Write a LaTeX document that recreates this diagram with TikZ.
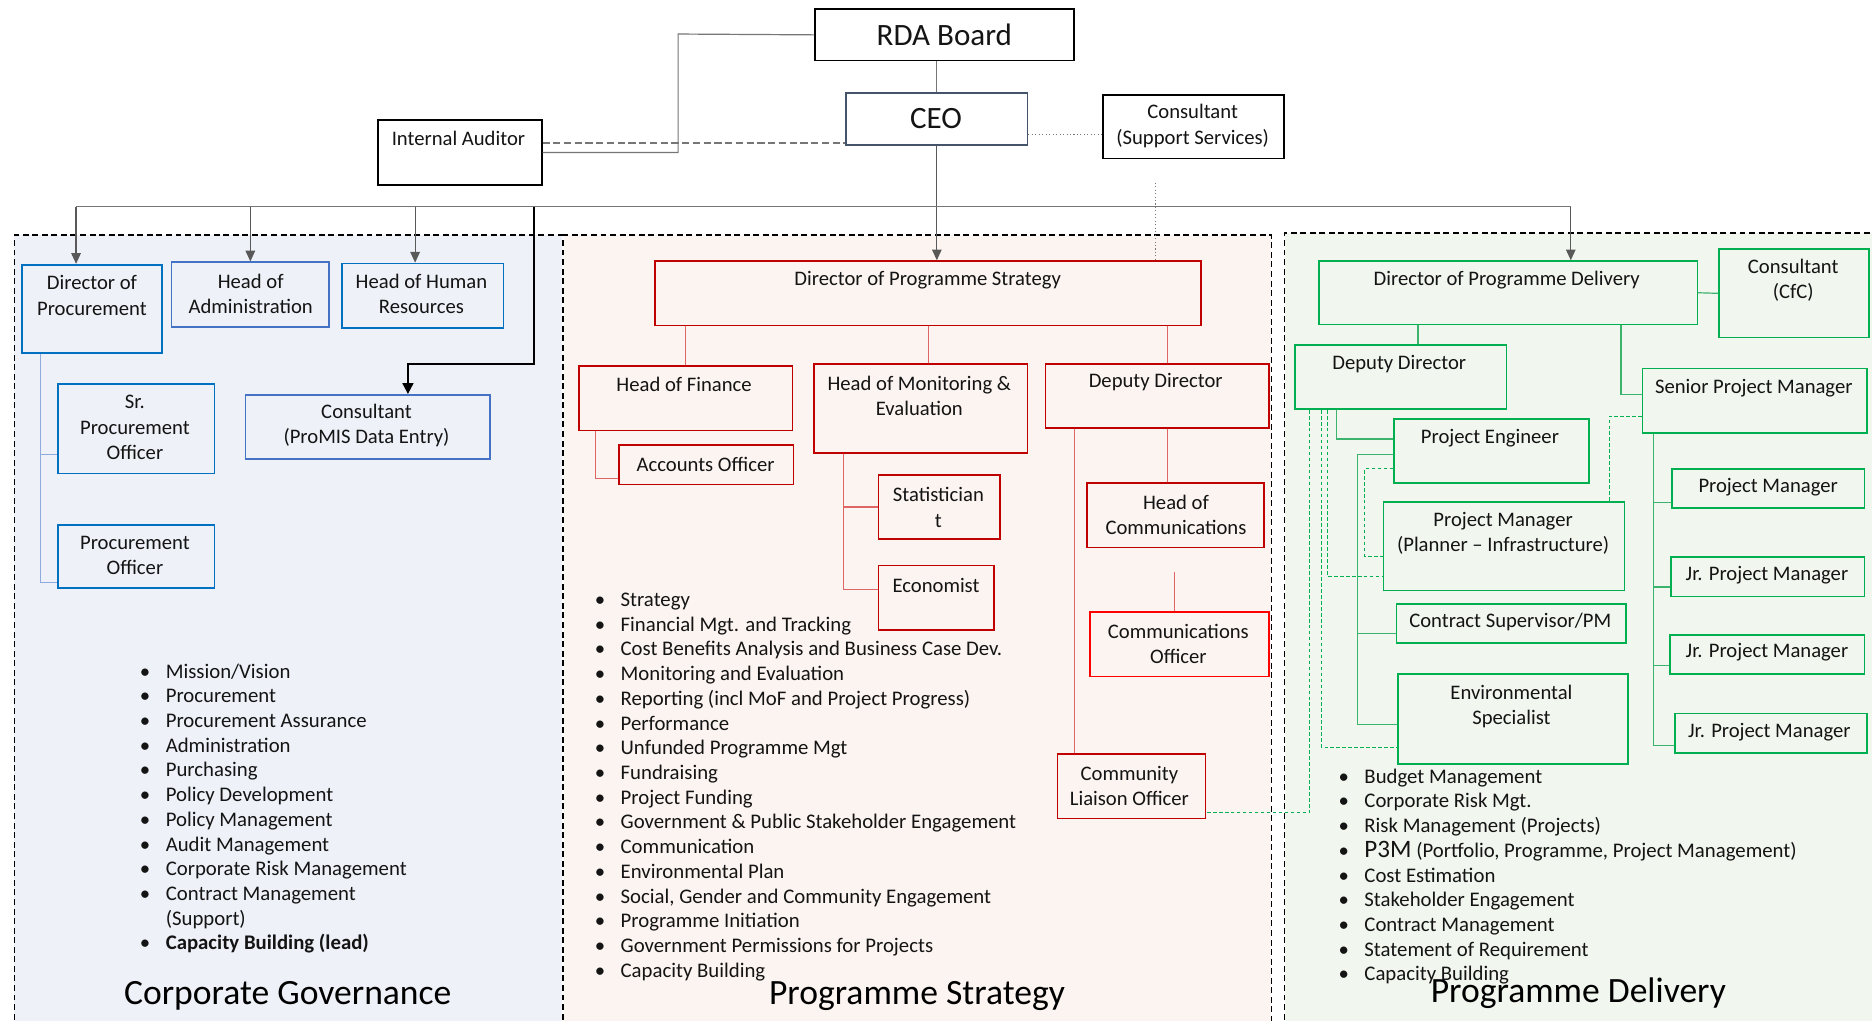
\documentclass[tikz,border=0pt]{standalone}
\usepackage{fontspec}
\setmainfont{Carlito}
\usetikzlibrary{arrows.meta,calc}
\definecolor{cgfill}{HTML}{EEF1F8}
\definecolor{psfill}{HTML}{FCF4F0}
\definecolor{pdfill}{HTML}{F1F6EE}
\definecolor{bluedk}{HTML}{0070C0}
\definecolor{bluelt}{HTML}{4472C4}
\definecolor{bluecn}{HTML}{8FAADC}
\definecolor{redb}{HTML}{C00000}
\definecolor{redbr}{HTML}{FF0000}
\definecolor{redcn}{HTML}{E06666}
\definecolor{greenb}{HTML}{00B050}
\definecolor{greencn}{HTML}{3CB46E}
\definecolor{ceob}{HTML}{44546A}
\definecolor{lineg}{HTML}{767676}
\definecolor{arrowg}{HTML}{595959}
\definecolor{textc}{HTML}{141414}
\newcommand\orgbox[6]{\node[#6, anchor=north west, minimum width={#4-#2}, minimum height={#5-#3}] (#1) at (#2,#3) {};}
\begin{document}
\begin{tikzpicture}[x=1pt,y=-1pt,
  box/.style={draw, rectangle, inner sep=0, line width=1.4pt},
  bt/.style={font=\fontsize{17.3}{21}\selectfont, align=center, inner sep=0, text=textc},
  lt/.style={font=\fontsize{17.4}{20.7}\selectfont, inner sep=0, text=textc, anchor=base west},
  ttl/.style={font=\fontsize{29.8}{34}\selectfont, inner sep=0, text=black},
  panel/.style={draw=black, line width=1.2pt, dash pattern=on 5pt off 3pt},
  conn/.style={draw=lineg, line width=1pt},
  arr/.style={draw=arrowg, line width=1pt, -{Triangle[width=8pt,length=9pt]}},
  blkarr/.style={draw=black, line width=1.6pt, -{Triangle[width=9pt,length=9pt]}},
  bconn/.style={draw=bluecn, line width=1pt},
  rconn/.style={draw=redcn, line width=1pt},
  gconn/.style={draw=greencn, line width=1pt},
  gdash/.style={draw=greenb, line width=0.8pt, dash pattern=on 3pt off 2pt},
]
\clip (0,0) rectangle (1568,855);
\fill[white] (0,0) rectangle (1568,855);
% panels
\fill[cgfill] (12,197) rectangle (471,870);
\fill[psfill] (472,197) rectangle (1065,870);
\fill[pdfill] (1076,195) rectangle (1590,870);
\draw[panel] (12,870) -- (12,197) -- (471,197) -- (471,870);
\draw[panel] (472,870) -- (472,197) -- (1065,197) -- (1065,870);
\draw[panel] (1076,870) -- (1076,195) -- (1590,195);

% top level
\orgbox{RDA}{682}{7}{899}{50}{box, draw=black, fill=white}
\node[font=\fontsize{26}{30}\selectfont, inner sep=0, text=textc] (RDA-t) at (791,29) {RDA Board};
\orgbox{CEO}{708}{77}{860}{121}{box, draw=ceob, fill=white}
\node[font=\fontsize{26}{30}\selectfont, inner sep=0, text=textc] (CEO-t) at (784,99) {CEO};
\orgbox{CSS}{923}{79}{1075}{132}{box, draw=black, fill=white}
\node[bt] (CSS-t) at (999,105.5) {Consultant\\(Support Services)};
\orgbox{IA}{316}{100}{453}{154}{box, draw=black, fill=white}
\node[bt] (IA-t) at (384,116) {Internal Auditor};

% Corporate Governance
\orgbox{DoP}{18}{221}{135}{295}{box, draw=bluedk}
\node[bt] (DoP-t) at (77,247.5) {Director of\\Procurement};
\orgbox{HoA}{143}{219}{275}{273}{box, draw=bluelt}
\node[bt] (HoA-t) at (210,246) {Head of\\Administration};
\orgbox{HHR}{286}{220}{421}{274}{box, draw=bluedk}
\node[bt] (HHR-t) at (353,246.5) {Head of Human\\Resources};
\orgbox{SPO}{48}{321}{179}{396}{box, draw=bluedk}
\node[bt] (SPO-t) at (113,358) {Sr.\\Procurement\\Officer};
\orgbox{PO}{48}{439}{179}{492}{box, draw=bluedk}
\node[bt] (PO-t) at (113,465.5) {Procurement\\Officer};
\orgbox{CPE}{205}{330}{410}{384}{box, draw=bluelt}
\node[bt] (CPE-t) at (307,356.5) {Consultant\\(ProMIS Data Entry)};

% Programme Strategy
\orgbox{DPS}{548}{218}{1005}{272}{box, draw=redb}
\node[bt] (DPS-t) at (777,235) {Director of Programme Strategy};
\orgbox{HoF}{484}{306}{663}{360}{box, draw=redb}
\node[bt] (HoF-t) at (573,322) {Head of Finance};
\orgbox{HME}{681}{304}{860}{379}{box, draw=redb}
\node[bt] (HME-t) at (770,331.5) {Head of Monitoring \&\\Evaluation};
\orgbox{DDs}{875}{304}{1062}{358}{box, draw=redb}
\node[bt] (DDs-t) at (968,320) {Deputy Director};
\orgbox{AO}{518}{372}{664}{405}{box, draw=redb}
\node[bt] (AO-t) at (591,389) {Accounts Officer};
\orgbox{Stat}{735}{397}{837}{451}{box, draw=redb}
\node[bt] (Stat-t) at (786,425) {Statistician\\t};
\orgbox{Econ}{735}{473}{832}{527}{box, draw=redb}
\node[bt] (Econ-t) at (784,490) {Economist};
\orgbox{HoC}{910}{404}{1058}{458}{box, draw=redb}
\node[bt] (HoC-t) at (985,431) {Head of\\Communications};
\orgbox{CommO}{912}{512}{1062}{566}{box, draw=redbr}
\node[bt] (CommO-t) at (987,539.5) {Communications\\Officer};
\orgbox{CLO}{885}{631}{1009}{685}{box, draw=redb}
\node[bt] (CLO-t) at (946,658.5) {Community\\Liaison Officer};

% Programme Delivery
\orgbox{DPD}{1104}{218}{1421}{271}{box, draw=greenb}
\node[bt] (DPD-t) at (1262,235) {Director of Programme Delivery};
\orgbox{CfC}{1439}{208}{1565}{282}{box, draw=greenb}
\node[bt] (CfC-t) at (1502,234.5) {Consultant\\(CfC)};
\orgbox{DDd}{1084}{288}{1261}{342}{box, draw=greenb}
\node[bt] (DDd-t) at (1172,305) {Deputy Director};
\orgbox{SPM}{1375}{308}{1563}{362}{box, draw=greenb}
\node[bt] (SPM-t) at (1469,325) {Senior Project Manager};
\orgbox{PE}{1167}{350}{1330}{404}{box, draw=greenb}
\node[bt] (PE-t) at (1248,367) {Project Engineer};
\orgbox{PMP}{1158}{420}{1360}{494}{box, draw=greenb}
\node[bt] (PMP-t) at (1259,446.5) {Project Manager\\(Planner -- Infrastructure)};
\orgbox{CSP}{1169}{505}{1361}{538}{box, draw=greenb}
\node[bt] (CSP-t) at (1265,521) {Contract Supervisor/PM};
\orgbox{ES}{1170}{564}{1363}{639}{box, draw=greenb}
\node[bt] (ES-t) at (1266,591.5) {Environmental\\Specialist};
\orgbox{PMr}{1400}{392}{1561}{425}{box, draw=greenb}
\node[bt] (PMr-t) at (1481,408) {Project Manager};
\orgbox{JPMa}{1399}{466}{1561}{499}{box, draw=greenb}
\node[bt] (JPMa-t) at (1480,482) {Jr. Project Manager};
\orgbox{JPMb}{1398}{531}{1561}{564}{box, draw=greenb}
\node[bt] (JPMb-t) at (1480,546) {Jr. Project Manager};
\orgbox{JPMc}{1402}{597}{1563}{630}{box, draw=greenb}
\node[bt] (JPMc-t) at (1482,613) {Jr. Project Manager};

% ---------- top connectors
\draw[conn] (CEO.north) -- (CEO.north |- RDA.south);
\coordinate (rdaj) at (568,28.5);
\draw[conn] (RDA.west) -- (rdaj) |- (IA.east);
\coordinate (ia-d) at ($(IA.east)+(0,-8)$);
\draw[conn, dash pattern=on 6pt off 3pt] (ia-d) -- (ia-d -| CEO.west);
\coordinate (ceo-d) at ($(CEO.east)+(0,13)$);
\draw[draw=lineg, line width=0.9pt, dotted] (ceo-d) -- (ceo-d -| CSS.west);
\coordinate (bus) at (0,173);
\draw[arr] (CEO.south) -- (CEO.south |- DPS.north);
\coordinate (dop-a) at ($(DoP.north)+(-13.5,0)$);
\coordinate (hhr-a) at ($(HHR.north)+(-6.5,0)$);
\coordinate (dpd-a) at ($(DPD.north)+(52.5,0)$);
\draw[conn] (dop-a |- bus) -- (dpd-a |- bus);
\draw[arr] (dop-a |- bus) -- (dop-a);
\draw[arr] (HoA.north |- bus) -- (HoA.north);
\draw[arr] (hhr-a |- bus) -- (hhr-a);
\draw[arr] (dpd-a |- bus) -- (dpd-a);
\coordinate (cpej) at (447,173);
\coordinate (cpek) at (447,305);
\coordinate (cpe-a) at ($(CPE.north)+(33.5,0)$);
\draw[blkarr] (cpej) -- (cpek) -| (cpe-a);
\coordinate (sstub) at (968,153);
\draw[draw=lineg, line width=0.9pt, dotted] (sstub) -- (sstub |- DPS.north);

% ---------- CG connectors
\coordinate (dop-b) at ($(DoP.south)+(-43.5,0)$);
\draw[bconn] (dop-b) |- ($(PO.west)+(0,21.5)$);
\draw[bconn] (dop-b) |- ($(SPO.west)+(0,21.5)$);

% ---------- PS connectors
\draw[rconn] (HoF.north) -- (HoF.north |- DPS.south);
\coordinate (hme-t) at ($(HME.north)+(6.5,0)$);
\draw[rconn] (hme-t) -- (hme-t |- DPS.south);
\coordinate (dds-t) at ($(DDs.north)+(8.5,0)$);
\draw[rconn] (dds-t) -- (dds-t |- DPS.south);
\coordinate (hof-b) at ($(HoF.south)+(-75.5,0)$);
\draw[rconn] (hof-b) |- ($(AO.west)+(0,11.5)$);
\coordinate (hme-b) at ($(HME.south)+(-64.5,0)$);
\draw[rconn] (hme-b) |- (Stat.west);
\draw[rconn] (hme-b) |- ($(Econ.west)+(0,-7)$);
\coordinate (dds-b) at ($(DDs.south)+(-69.5,0)$);
\draw[rconn] (dds-b) -- (dds-b |- CLO.north);
\coordinate (dds-c) at ($(DDs.south)+(8.5,0)$);
\draw[rconn] (dds-c) -- (dds-c |- HoC.north);
\coordinate (co-t) at ($(CommO.north)+(-4,0)$);
\coordinate (co-s) at ($(co-t)+(0,-33)$);
\draw[rconn] (co-s) -- (co-t);

% ---------- PD connectors
\draw[gconn] (DPD.east) -- (CfC.west);
\coordinate (ddd-t) at ($(DDd.north)+(14.5,0)$);
\draw[gconn] (ddd-t) -- (ddd-t |- DPD.south);
\coordinate (dpd-b) at ($(DPD.south)+(94.5,0)$);
\draw[gconn] (dpd-b) |- ($(SPM.west)+(0,-5)$);
\coordinate (spm-b) at ($(SPM.south)+(-85,0)$);
\draw[gconn] (spm-b) |- ($(PMr.west)+(0,11.5)$);
\draw[gconn] (spm-b) |- ($(JPMa.west)+(0,8.5)$);
\draw[gconn] (spm-b) |- ($(JPMb.west)+(0,9.5)$);
\draw[gconn] (spm-b) |- ($(JPMc.west)+(0,10.5)$);
\coordinate (ddd-b1) at ($(DDd.south)+(-53.5,0)$);
\draw[gconn] (ddd-b1) |- ($(PE.west)+(0,-10)$);
\coordinate (pe-l2) at ($(PE.west)+(0,3)$);
\coordinate (pe-j) at ($(pe-l2)+(-30,0)$);
\draw[gconn] (pe-l2) -- (pe-j) |- ($(ES.west)+(0,4.5)$);
\draw[gconn] (pe-j) |- ($(CSP.west)+(0,8.5)$);
\coordinate (pe-l3) at ($(PE.west)+(0,15)$);
\coordinate (pe-k) at ($(pe-l3)+(-24,0)$);
\draw[gdash] (pe-l3) -- (pe-k) |- ($(PMP.west)+(0,8)$);
\coordinate (ddd-b2) at ($(DDd.south)+(-61.5,0)$);
\draw[gdash] (ddd-b2) |- ($(PMP.west)+(0,25)$);
\coordinate (ddd-b3) at ($(DDd.south)+(-66.5,0)$);
\draw[gdash] (ddd-b3) |- ($(ES.west)+(0,23.5)$);
\coordinate (ddd-b4) at ($(DDd.south)+(-76.5,0)$);
\draw[gdash] (ddd-b4) |- ($(CLO.east)+(0,22)$);
\coordinate (spm-l2) at ($(SPM.west)+(0,13)$);
\coordinate (pmp-t) at ($(PMP.north)+(88,0)$);
\draw[gdash] (spm-l2) -| (pmp-t);

% ---------- lists
\node[lt] (cglist) at (117,568) {\begin{tabular}[t]{@{}l@{\hspace{13pt}}l@{}}
\textbullet & Mission/Vision\\
\textbullet & Procurement\\
\textbullet & Procurement Assurance\\
\textbullet & Administration\\
\textbullet & Purchasing\\
\textbullet & Policy Development\\
\textbullet & Policy Management\\
\textbullet & Audit Management\\
\textbullet & Corporate Risk Management\\
\textbullet & Contract Management\\
 & (Support)\\
\textbullet & \textbf{Capacity Building (lead)}
\end{tabular}};
\node[lt] (pslist) at (498,508) {\begin{tabular}[t]{@{}l@{\hspace{13pt}}l@{}}
\textbullet & Strategy\\
\textbullet & Financial Mgt. and Tracking\\
\textbullet & Cost Benefits Analysis and Business Case Dev.\\
\textbullet & Monitoring and Evaluation\\
\textbullet & Reporting (incl MoF and Project Progress)\\
\textbullet & Performance\\
\textbullet & Unfunded Programme Mgt\\
\textbullet & Fundraising\\
\textbullet & Project Funding\\
\textbullet & Government \& Public Stakeholder Engagement\\
\textbullet & Communication\\
\textbullet & Environmental Plan\\
\textbullet & Social, Gender and Community Engagement\\
\textbullet & Programme Initiation\\
\textbullet & Government Permissions for Projects\\
\textbullet & Capacity Building
\end{tabular}};
\node[lt] (pdlist) at (1121,656) {\begin{tabular}[t]{@{}l@{\hspace{13pt}}l@{}}
\textbullet & Budget Management\\
\textbullet & Corporate Risk Mgt.\\
\textbullet & Risk Management (Projects)\\
\textbullet & {\fontsize{21}{21}\selectfont P3M} (Portfolio, Programme, Project Management)\\
\textbullet & Cost Estimation\\
\textbullet & Stakeholder Engagement\\
\textbullet & Contract Management\\
\textbullet & Statement of Requirement\\
\textbullet & Capacity Building
\end{tabular}};

% ---------- titles
\node[ttl] (cgt) at (241,834) {Corporate Governance};
\node[ttl] (pst) at (768,834) {Programme Strategy};
\node[ttl] (pdt) at (1322,832) {Programme Delivery};
\end{tikzpicture}
\end{document}
